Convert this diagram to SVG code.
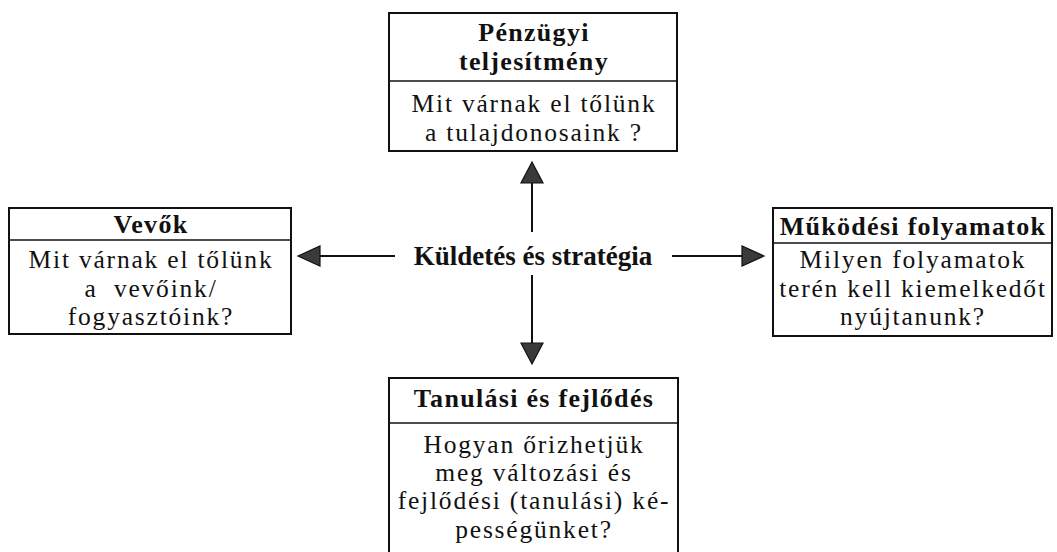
<svg xmlns="http://www.w3.org/2000/svg" width="1057" height="552" viewBox="0 0 1057 552">
<defs>
<style>
.box{fill:#fff;stroke:#111;stroke-width:2}
.div{stroke:#111;stroke-width:1.5}
.h{font-family:"Liberation Serif","Times New Roman",serif;font-weight:bold;font-size:26px;letter-spacing:1.3px;fill:#111;text-anchor:middle}
.b{font-family:"Liberation Serif","Times New Roman",serif;font-size:25.5px;letter-spacing:1.8px;fill:#111;text-anchor:middle}
.c{font-family:"Liberation Serif","Times New Roman",serif;font-weight:bold;font-size:27px;fill:#111;text-anchor:middle}
.ln{stroke:#111;stroke-width:2;fill:none}
.ah{fill:#3a3a3a;stroke:#111;stroke-width:1.2;stroke-linejoin:miter}
</style>
</defs>
<rect width="1057" height="552" fill="#fff"/>
<g id="penzugyi">
<rect class="box" x="389" y="13" width="288" height="138"/>
<line class="div" x1="389" y1="81" x2="677" y2="81"/>
<text class="h" x="534" y="41">Pénzügyi</text>
<text class="h" x="534" y="70">teljesítmény</text>
<text class="b" x="534" y="112">Mit várnak el tőlünk</text>
<text class="b" x="534" y="141">a tulajdonosaink ?</text>
</g>
<g id="vevok">
<rect class="box" x="9" y="208" width="282" height="126"/>
<line class="div" x1="9" y1="240" x2="291" y2="240"/>
<text class="h" x="151" y="233">Vevők</text>
<text class="b" x="151" y="268">Mit várnak el tőlünk</text>
<text class="b" x="151" y="297" xml:space="preserve">a  vevőink/</text>
<text class="b" x="151" y="325">fogyasztóink?</text>
</g>
<g id="mukodesi">
<rect class="box" x="773" y="208" width="279" height="128"/>
<line class="div" x1="773" y1="243" x2="1052" y2="243"/>
<text class="h" x="913" y="235">Működési folyamatok</text>
<text class="b" x="913" y="268">Milyen folyamatok</text>
<text class="b" x="913" y="297">terén kell kiemelkedőt</text>
<text class="b" x="913" y="325">nyújtanunk?</text>
</g>
<g id="tanulasi">
<rect class="box" x="389" y="378" width="289" height="180"/>
<line class="div" x1="389" y1="423" x2="678" y2="423"/>
<text class="h" x="534" y="407">Tanulási és fejlődés</text>
<text class="b" x="534" y="453">Hogyan őrizhetjük</text>
<text class="b" x="534" y="481">meg változási és</text>
<text class="b" x="534" y="509">fejlődési (tanulási) ké-</text>
<text class="b" x="534" y="538">pességünket?</text>
</g>
<g id="kuldetes">
<text class="c" x="533" y="265">Küldetés és stratégia</text>
</g>
<g id="connectors">
<line class="ln" x1="532" y1="182" x2="532" y2="232"/>
<polygon class="ah" points="532,162 543,183 521,183"/>
<line class="ln" x1="532" y1="275" x2="532" y2="344"/>
<polygon class="ah" points="532,364 521,343 543,343"/>
<line class="ln" x1="319" y1="256" x2="395" y2="256"/>
<polygon class="ah" points="298,256 320,246 320,266"/>
<line class="ln" x1="672" y1="256" x2="744" y2="256"/>
<polygon class="ah" points="764,256 742,246 742,266"/>
</g>
</svg>
